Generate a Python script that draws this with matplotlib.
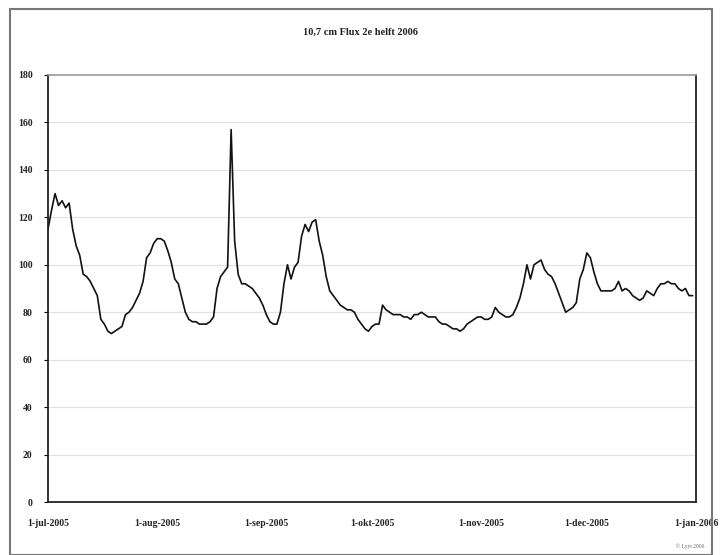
import matplotlib.pyplot as plt
from matplotlib.patches import Rectangle
import pandas as pd

# daily 10.7 cm flux, 1 jul 2005 .. 31 dec 2005
flux = [
    115, 123, 130, 125, 127, 124, 126, 115, 108, 104,
    96, 95, 93, 90, 87, 77, 75, 72, 71, 72,
    73, 74, 79, 80, 82, 85, 88, 93, 103, 105,
    109, 111, 111, 110, 106, 101, 94, 92, 86, 80,
    77, 76, 76, 75, 75, 75, 76, 78, 90, 95,
    97, 99, 157, 110, 96, 92, 92, 91, 90, 88,
    86, 83, 79, 76, 75, 75, 80, 92, 100, 94,
    99, 101, 112, 117, 114, 118, 119, 110, 104, 95,
    89, 87, 85, 83, 82, 81, 81, 80, 77, 75,
    73, 72, 74, 75, 75, 83, 81, 80, 79, 79,
    79, 78, 78, 77, 79, 79, 80, 79, 78, 78,
    78, 76, 75, 75, 74, 73, 73, 72, 73, 75,
    76, 77, 78, 78, 77, 77, 78, 82, 80, 79,
    78, 78, 79, 82, 86, 92, 100, 94, 100, 101,
    102, 98, 96, 95, 92, 88, 84, 80, 81, 82,
    84, 94, 98, 105, 103, 97, 92, 89, 89, 89,
    89, 90, 93, 89, 90, 89, 87, 86, 85, 86,
    89, 88, 87, 90, 92, 92, 93, 92, 92, 90,
    89, 90, 87, 87,
]
days = pd.date_range("2005-07-01", periods=len(flux), freq="D")

tick_dates = pd.to_datetime(["2005-07-01", "2005-08-01", "2005-09-01", "2005-10-01",
                             "2005-11-01", "2005-12-01", "2006-01-01"])
tick_labels = ["1-jul-2005", "1-aug-2005", "1-sep-2005", "1-okt-2005",
               "1-nov-2005", "1-dec-2005", "1-jan-2006"]
y_ticks = list(range(0, 181, 20))

fig = plt.figure(figsize=(7.2, 5.55), dpi=100)
ax = fig.add_axes([48 / 720, 1 - 502 / 555, 648 / 720, 427 / 555])

for v in y_ticks[1:-1]:
    ax.axhline(v, color="#e2e2e2", lw=0.9, zorder=0)

ax.plot(days, flux, color="#111111", lw=1.2)

ax.set_xlim(tick_dates[0], tick_dates[-1])
ax.set_ylim(0, 180)
ax.set_yticks(y_ticks)
ax.set_xticks(tick_dates)
ax.set_xticklabels(tick_labels)

for lab in ax.get_xticklabels() + ax.get_yticklabels():
    lab.set_fontfamily("Liberation Serif")
    lab.set_fontweight("bold")
    lab.set_fontsize(7)
    lab.set_color("#222222")
ax.tick_params(axis="x", length=0, pad=12)
ax.tick_params(axis="y", length=3, pad=8)

for side in ["left", "bottom", "right"]:
    ax.spines[side].set_color("#222222")
    ax.spines[side].set_linewidth(1.3)
ax.spines["top"].set_color("#999999")
ax.spines["top"].set_linewidth(1.2)

fig.text(0.5, 1 - 32 / 555, "10,7 cm Flux 2e helft 2006", ha="center", va="center",
         fontfamily="Liberation Serif", fontweight="bold", fontsize=7.5, color="#222222")
fig.text(690 / 720, 1 - 546 / 555, "© Lyyt 2006", ha="center", va="center",
         fontfamily="Liberation Serif", fontsize=4, color="#666666")

fig.patches.append(Rectangle((10 / 720, 0.0), 702 / 720, 1 - 9 / 555,
                             transform=fig.transFigure, fill=False,
                             edgecolor="#777777", lw=1.5))

fig.savefig("out.png", dpi=100)
